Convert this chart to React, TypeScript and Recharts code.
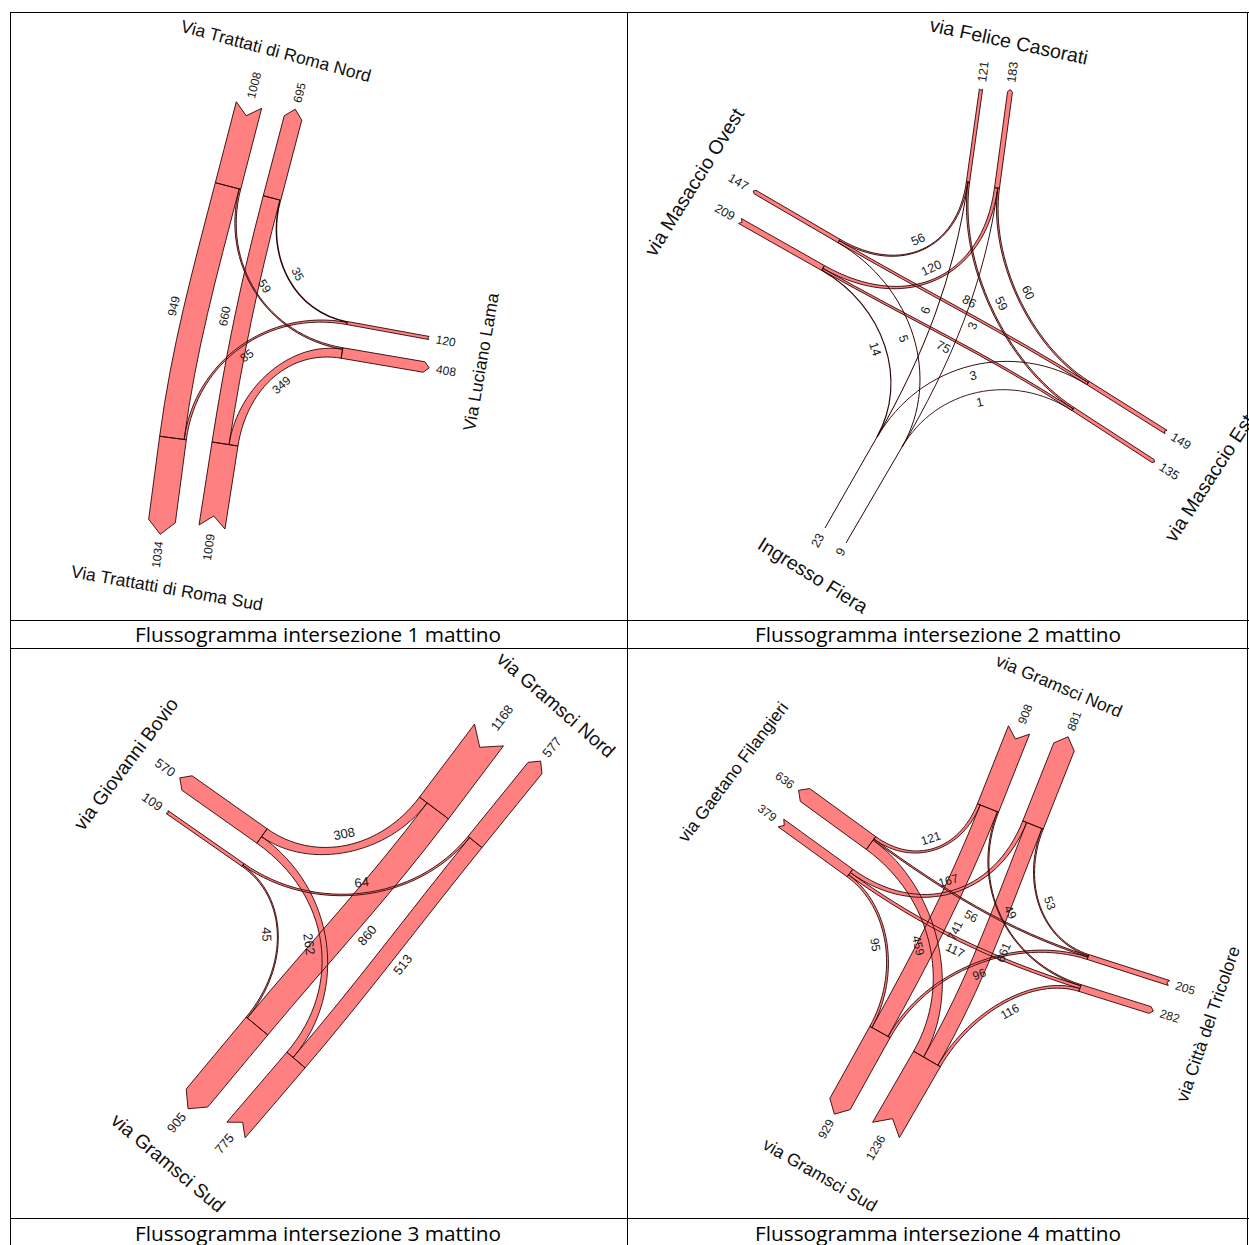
import React from 'react';
import { ScatterChart, Scatter, XAxis, YAxis } from 'recharts';

// ---------- Intersezione 1 ----------
const p1Arms = ['N', 'S', 'E'];
const p1Entering = [1008, 1009, 120];
const p1Leaving = [695, 1034, 408];
const p1From = ['N', 'N', 'S', 'S', 'E', 'E'];
const p1To = ['S', 'E', 'N', 'E', 'N', 'S'];
const p1Flows = [949, 59, 660, 349, 35, 85];
const p1Streets = ['Via Trattati di Roma Nord', 'Via Trattatti di Roma Sud', 'Via Luciano Lama'];

// ---------- Intersezione 2 ----------
const p2Arms = ['N', 'W', 'E', 'S'];
const p2Entering = [121, 209, 149, 9];
const p2Leaving = [183, 147, 135, 23];
const p2From = ['N', 'N', 'N', 'W', 'W', 'W', 'E', 'E', 'E', 'S', 'S', 'S'];
const p2To = ['W', 'E', 'S', 'N', 'E', 'S', 'W', 'N', 'S', 'N', 'E', 'W'];
const p2Flows = [56, 59, 6, 120, 75, 14, 86, 60, 3, 3, 1, 5];
const p2Streets = ['via Felice Casorati', 'via Masaccio Ovest', 'via Masaccio Est', 'Ingresso Fiera'];

// ---------- Intersezione 3 ----------
const p3Arms = ['N', 'S', 'W'];
const p3Entering = [1168, 775, 109];
const p3Leaving = [577, 905, 570];
const p3From = ['N', 'N', 'S', 'S', 'W', 'W'];
const p3To = ['S', 'W', 'N', 'W', 'N', 'S'];
const p3Flows = [860, 308, 513, 262, 64, 45];
const p3Streets = ['via Gramsci Nord', 'via Gramsci Sud', 'via Giovanni Bovio'];

// ---------- Intersezione 4 ----------
const p4Arms = ['N', 'S', 'W', 'E'];
const p4Entering = [908, 1236, 379, 205];
const p4Leaving = [881, 929, 636, 282];
const p4From = ['N', 'N', 'N', 'S', 'S', 'S', 'W', 'W', 'W', 'E', 'E', 'E'];
const p4To = ['S', 'W', 'E', 'N', 'W', 'E', 'N', 'E', 'S', 'N', 'W', 'S'];
const p4Flows = [741, 121, 49, 661, 459, 116, 167, 117, 95, 53, 56, 96];
const p4Streets = ['via Gramsci Nord', 'via Gramsci Sud', 'via Gaetano Filangieri', 'via Città del Tricolore'];

const captions = [
  'Flussogramma intersezione 1 mattino',
  'Flussogramma intersezione 2 mattino',
  'Flussogramma intersezione 3 mattino',
  'Flussogramma intersezione 4 mattino',
];

// layout: lane ends in page pixels [innerX, innerY, outerX, outerY], one per arm
const p1EntryLane = [[228, 186, 249, 105], [225, 444, 212, 527], [347, 323, 429, 338]];
const p1ExitLane = [[272, 198, 293, 118], [173, 438, 162, 521], [342, 353, 424, 367]];
const p1LabelSide = [1, -1, -1, 1, 1, -1];
const p1StreetAt = [[276, 51, 15], [167, 588, 10], [481, 362, -80]];

const p2EntryLane = [[968, 182, 981, 89], [823, 268, 740, 221], [1088, 383, 1166, 432], [902, 447, 846, 543]];
const p2ExitLane = [[997, 188, 1010, 92], [839, 241, 755, 192], [1073, 409, 1153, 461], [877, 437, 825, 528]];
const p2LabelSide = [1, -1, 1, -1, 1, 1, 1, 1, -1, 1, 1, -1];
const p2StreetAt = [[1009, 41, 12], [694, 182, -58], [1209, 478, -57], [813, 575, 32]];

const p3EntryLane = [[434, 808, 489, 735], [296, 1060, 236, 1130], [243, 865, 167, 812]];
const p3ExitLane = [[475, 842, 535, 768], [257, 1026, 197, 1098], [262, 836, 187, 783]];
const p3LabelSide = [-1, 1, 1, -1, -1, 1];
const p3StreetAt = [[556, 705, 41], [168, 1163, 40], [126, 764, -53]];

const p4EntryLane = [[988, 808, 1019, 730], [927, 1059, 886, 1130], [850, 873, 781, 823], [1088, 957, 1169, 983]];
const p4ExitLane = [[1033, 825, 1064, 747], [880, 1032, 840, 1104], [871, 843, 805, 795], [1080, 988, 1150, 1010]];
const p4LabelSide = [-1, 1, -1, 1, -1, 1, -1, 1, 1, 1, -1, -1];
const p4StreetAt = [[1059, 686, 23], [820, 1175, 30], [733, 772, -53], [1208, 1024, -71]];

const FILL = '#ff8080';
const EDGE = '#2d0606';
const FONT = '"Liberation Sans", Arial, sans-serif';

type V = { x: number; y: number };
const sub = (a: V, b: V): V => ({ x: a.x - b.x, y: a.y - b.y });
const add = (a: V, b: V): V => ({ x: a.x + b.x, y: a.y + b.y });
const mul = (a: V, s: number): V => ({ x: a.x * s, y: a.y * s });
const dot = (a: V, b: V) => a.x * b.x + a.y * b.y;
const len = (a: V) => Math.hypot(a.x, a.y);
const unit = (a: V) => mul(a, 1 / (len(a) || 1));
const perp = (a: V): V => ({ x: -a.y, y: a.x });
const f = (p: V) => `${p.x.toFixed(2)},${p.y.toFixed(2)}`;
const readable = (deg: number) => {
  let a = deg;
  while (a > 90) a -= 180;
  while (a <= -90) a += 180;
  return a;
};

function handles(P0: V, u0: V, P3: V, u3: V) {
  const r = sub(P3, P0);
  const dist = len(r);
  const det = u0.x * u3.y - u0.y * u3.x;
  if (Math.abs(det) > 0.55) {
    const s = (r.x * u3.y - r.y * u3.x) / det;
    const t = (u0.x * r.y - u0.y * r.x) / det;
    if (s > 0 && t > 0) return [Math.min(s * 0.55, dist), Math.min(t * 0.55, dist)];
    return [dist * 0.45, dist * 0.45];
  }
  return [dist * 0.35, dist * 0.35];
}

function Diagram({ points, cfg }: { points: V[]; cfg: any }) {
  if (!points || points.length < cfg.arms.length * 4) return null;
  const lanes: Record<string, any> = {};
  const mk = (I: V, O: V, total: number, kind: string) => {
    const d = unit(sub(O, I));
    return { I, O, d, n: perp(d), w: total * cfg.k, total, kind };
  };
  cfg.arms.forEach((arm: string, i: number) => {
    lanes[arm + 'in'] = mk(points[i * 4], points[i * 4 + 1], cfg.entering[i], 'in');
    lanes[arm + 'out'] = mk(points[i * 4 + 2], points[i * 4 + 3], cfg.leaving[i], 'out');
  });
  const moves = cfg.flows.map((v: number, j: number) => ({
    A: lanes[cfg.from[j] + 'in'],
    B: lanes[cfg.to[j] + 'out'],
    w: v * cfg.k,
    v,
    side: cfg.side[j],
    sA: 0,
    sB: 0,
  }));

  // stack the movements across each lane end
  Object.values(lanes).forEach((lane: any) => {
    const isIn = lane.kind === 'in';
    const list = moves.filter((m: any) => (isIn ? m.A : m.B) === lane);
    const th = (m: any) => {
      const v = sub((isIn ? m.B : m.A).I, lane.I);
      return Math.atan2(dot(v, lane.n), dot(v, mul(lane.d, -1)));
    };
    const sorted = [...list].sort((a: any, b: any) => th(b) - th(a));
    let cum = sorted.reduce((s: number, m: any) => s + m.w, 0) / 2;
    sorted.forEach((m: any) => {
      const s = cum - m.w / 2;
      if (isIn) m.sA = s;
      else m.sB = s;
      cum -= m.w;
    });
  });

  const fills: React.ReactNode[] = [];
  const edges: React.ReactNode[] = [];
  const texts: React.ReactNode[] = [];
  const fs = cfg.labelSize;

  moves.forEach((m: any, j: number) => {
    const P0 = add(m.A.I, mul(m.A.n, m.sA));
    const P3 = add(m.B.I, mul(m.B.n, m.sB));
    const u0 = mul(m.A.d, -1);
    const u3 = m.B.d;
    const [c0, c1] = handles(P0, u0, P3, u3);
    const P1 = add(P0, mul(u0, c0));
    const P2 = sub(P3, mul(u3, c1));
    const h = m.w / 2;
    if (m.w < 1) {
      edges.push(
        <path key={'fl' + j} d={`M${f(P0)}C${f(P1)} ${f(P2)} ${f(P3)}`} fill="none" stroke={EDGE}
          strokeWidth={0.9 + m.w * 0.7} />
      );
    } else {
      const m0 = perp(u0);
      const m3 = perp(u3);
      const e1 = [add(P0, mul(m0, h)), add(P1, mul(m0, h)), add(P2, mul(m3, h)), add(P3, mul(m3, h))];
      const e2 = [sub(P0, mul(m0, h)), sub(P1, mul(m0, h)), sub(P2, mul(m3, h)), sub(P3, mul(m3, h))];
      const d = `M${f(e1[0])}C${f(e1[1])} ${f(e1[2])} ${f(e1[3])}L${f(e2[3])}C${f(e2[2])} ${f(e2[1])} ${f(e2[0])}Z`;
      fills.push(<path key={'ff' + j} d={d} fill={FILL} stroke="none" />);
      edges.push(<path key={'fe' + j} d={d} fill="none" stroke={EDGE} strokeWidth={0.9} />);
    }
    // label at the middle of the curve
    const mid = mul(add(add(P0, P3), mul(add(P1, P2), 3)), 1 / 8);
    const tan = unit(add(add(mul(sub(P1, P0), 0.75), mul(sub(P2, P1), 1.5)), mul(sub(P3, P2), 0.75)));
    const nrm = perp(tan);
    const pos = add(mid, mul(nrm, m.side * (h + fs * 0.65 + 2)));
    const ang = readable((Math.atan2(tan.y, tan.x) * 180) / Math.PI);
    texts.push(
      <text key={'fv' + j} x={pos.x} y={pos.y} transform={`rotate(${ang.toFixed(1)} ${pos.x.toFixed(2)} ${pos.y.toFixed(2)})`}
        textAnchor="middle" dominantBaseline="central" fontSize={fs} fontFamily={FONT} fill="#1a1a1a">{m.v}</text>
    );
  });

  Object.entries(lanes).forEach(([key, L]: [string, any]) => {
    const h = L.w / 2;
    if (L.w < 1.2) {
      edges.push(<path key={'ll' + key} d={`M${f(L.I)}L${f(L.O)}`} stroke={EDGE} strokeWidth={1} fill="none" />);
    } else {
      const a1 = add(L.I, mul(L.n, h));
      const a2 = add(L.O, mul(L.n, h));
      const a3 = sub(L.O, mul(L.n, h));
      const a4 = sub(L.I, mul(L.n, h));
      const tip = L.kind === 'out' ? add(L.O, mul(L.d, h)) : sub(L.O, mul(L.d, h * 0.85));
      const d = `M${f(a1)}L${f(a2)}L${f(tip)}L${f(a3)}L${f(a4)}Z`;
      fills.push(<path key={'lf' + key} d={d} fill={FILL} stroke="none" />);
      edges.push(<path key={'le' + key} d={d} fill="none" stroke={EDGE} strokeWidth={0.9} strokeLinejoin="miter" />);
    }
    const label = String(L.total);
    const ext = L.kind === 'out' ? h : 0;
    const pos = add(L.O, mul(L.d, ext + 7 + label.length * fs * 0.28));
    const ang = readable((Math.atan2(L.d.y, L.d.x) * 180) / Math.PI);
    texts.push(
      <text key={'lt' + key} x={pos.x} y={pos.y} transform={`rotate(${ang.toFixed(1)} ${pos.x.toFixed(2)} ${pos.y.toFixed(2)})`}
        textAnchor="middle" dominantBaseline="central" fontSize={fs} fontFamily={FONT} fill="#1a1a1a">{label}</text>
    );
  });

  return (
    <g>
      <g>{fills}</g>
      <g>{edges}</g>
      <g>{texts}</g>
    </g>
  );
}

const StreetName = (props: any) => {
  const { cx, cy, payload } = props;
  if (cx == null || cy == null) return <g />;
  return (
    <text x={cx} y={cy} transform={`rotate(${payload.angle} ${cx} ${cy})`} textAnchor="middle" dominantBaseline="central"
      fontSize={payload.size} fontFamily={FONT} fill="#111">{payload.text}</text>
  );
};

function FlowPanel({ cfg }: { cfg: any }) {
  const [x0, y0, x1, y1] = cfg.box;
  const data: V[] = [];
  cfg.arms.forEach((_: string, i: number) => {
    const e = cfg.entryLane[i];
    const o = cfg.exitLane[i];
    data.push({ x: e[0], y: e[1] }, { x: e[2], y: e[3] }, { x: o[0], y: o[1] }, { x: o[2], y: o[3] });
  });
  const names = cfg.streets.map((s: string, i: number) => ({
    x: cfg.streetAt[i][0],
    y: cfg.streetAt[i][1],
    angle: cfg.streetAt[i][2],
    size: cfg.nameSize,
    text: s,
  }));
  return (
    <div style={{ position: 'absolute', left: x0, top: y0 }}>
      <ScatterChart width={x1 - x0} height={y1 - y0} margin={{ top: 0, right: 0, bottom: 0, left: 0 }}>
        <XAxis type="number" dataKey="x" domain={[x0, x1]} hide allowDataOverflow />
        <YAxis type="number" dataKey="y" domain={[y0, y1]} reversed hide allowDataOverflow />
        <Scatter
          data={data}
          isAnimationActive={false}
          shape={() => <g />}
          line={(p: any) => <Diagram points={p.points} cfg={cfg} />}
        />
        <Scatter data={names} isAnimationActive={false} shape={StreetName} />
      </ScatterChart>
    </div>
  );
}

const panels = [
  {
    box: [11, 13, 626, 619], k: 0.026, nameSize: 17.5, labelSize: 12, arms: p1Arms, entering: p1Entering,
    leaving: p1Leaving, from: p1From, to: p1To, flows: p1Flows, side: p1LabelSide, entryLane: p1EntryLane,
    exitLane: p1ExitLane, streets: p1Streets, streetAt: p1StreetAt,
  },
  {
    box: [628, 13, 1249, 619], k: 0.027, nameSize: 19.6, labelSize: 12.5, arms: p2Arms, entering: p2Entering,
    leaving: p2Leaving, from: p2From, to: p2To, flows: p2Flows, side: p2LabelSide, entryLane: p2EntryLane,
    exitLane: p2ExitLane, streets: p2Streets, streetAt: p2StreetAt,
  },
  {
    box: [11, 649, 626, 1217], k: 0.031, nameSize: 19.3, labelSize: 13, arms: p3Arms, entering: p3Entering,
    leaving: p3Leaving, from: p3From, to: p3To, flows: p3Flows, side: p3LabelSide, entryLane: p3EntryLane,
    exitLane: p3ExitLane, streets: p3Streets, streetAt: p3StreetAt,
  },
  {
    box: [628, 649, 1249, 1217], k: 0.025, nameSize: 17.5, labelSize: 12, arms: p4Arms, entering: p4Entering,
    leaving: p4Leaving, from: p4From, to: p4To, flows: p4Flows, side: p4LabelSide, entryLane: p4EntryLane,
    exitLane: p4ExitLane, streets: p4Streets, streetAt: p4StreetAt,
  },
];

const hLine = (y: number) => (
  <div key={'h' + y} style={{ position: 'absolute', left: 10, top: y, width: 1239, height: 1, background: '#000' }} />
);
const vLine = (x: number) => (
  <div key={'v' + x} style={{ position: 'absolute', left: x, top: 12, width: 1, height: 1233, background: '#000' }} />
);

export default function App() {
  const capPos = [[318, 634], [938, 634], [318, 1233], [938, 1233]];
  return (
    <div style={{ position: 'absolute', left: 0, top: 0, width: 1249, height: 1245, overflow: 'hidden', background: '#fff' }}>
      {panels.map((cfg, i) => (
        <FlowPanel key={i} cfg={cfg} />
      ))}
      {[12, 620, 648, 1218].map(hLine)}
      {[10, 627, 1247].map(vLine)}
      {captions.map((c, i) => (
        <div key={c} style={{
          position: 'absolute', left: capPos[i][0] - 260, top: capPos[i][1] - 14, width: 520, height: 28,
          textAlign: 'center', lineHeight: '28px', fontFamily: '"Open Sans", sans-serif', fontSize: 20.8, color: '#000',
        }}>{c}</div>
      ))}
    </div>
  );
}
